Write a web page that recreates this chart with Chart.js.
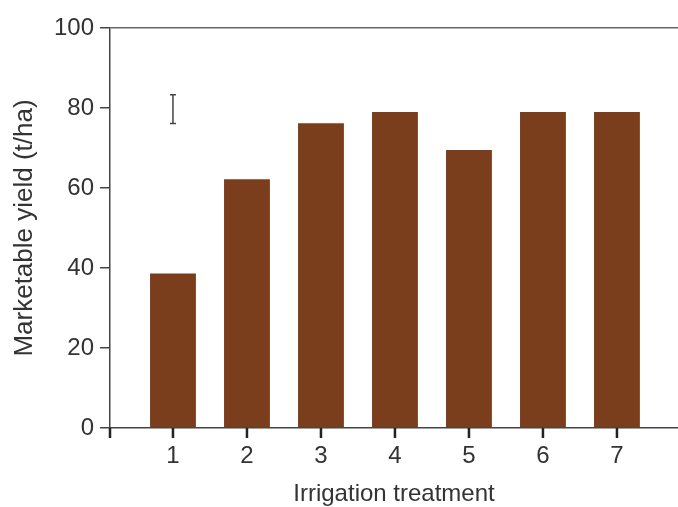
<!DOCTYPE html>
<html>
<head>
<meta charset="utf-8">
<script src="https://cdn.jsdelivr.net/npm/chart.js@4.4.0/dist/chart.umd.min.js"></script>
<style>
  html, body { margin: 0; padding: 0; background: #fff; }
  canvas { display: block; }
</style>
</head>
<body>
<canvas id="yieldChart" width="678" height="507"></canvas>
<script>
// Irrigation treatments and marketable yield (t/ha)
const treatments = [1, 2, 3, 4, 5, 6, 7];
const yieldValues = [38.6, 62.2, 76.2, 79, 69.5, 79, 79];

// LSD bar drawn near treatment 1
const lsdX = [1];
const lsdLow = [76.1];
const lsdHigh = [83.3];

const textColor = "#333333";
const lineColor = "#444444";
const barColor = "#7b3e1c";

// LSD bar, x tick marks and the little downward stub of the y axis
const extrasPlugin = {
  id: "extras",
  afterDraw(chart) {
    const { ctx, scales, chartArea } = chart;
    ctx.save();
    ctx.strokeStyle = lineColor;
    ctx.lineWidth = 1.5;
    lsdX.forEach((xv, i) => {
      const x = scales.x.getPixelForValue(xv);
      const y1 = scales.y.getPixelForValue(lsdLow[i]);
      const y2 = scales.y.getPixelForValue(lsdHigh[i]);
      ctx.beginPath();
      ctx.moveTo(x, y1);
      ctx.lineTo(x, y2);
      ctx.moveTo(x - 3, y1);
      ctx.lineTo(x + 3, y1);
      ctx.moveTo(x - 3, y2);
      ctx.lineTo(x + 3, y2);
      ctx.stroke();
    });
    ctx.strokeStyle = "#222222";
    ctx.lineWidth = 2.5;
    const marks = [chartArea.left].concat(treatments.map(t => scales.x.getPixelForValue(t)));
    marks.forEach(x => {
      ctx.beginPath();
      ctx.moveTo(x, chartArea.bottom);
      ctx.lineTo(x, chartArea.bottom + 10);
      ctx.stroke();
    });
    ctx.restore();
  }
};

const ctx = document.getElementById("yieldChart").getContext("2d");

new Chart(ctx, {
  type: "bar",
  data: {
    datasets: [
      {
        data: treatments.map((t, i) => ({ x: t, y: yieldValues[i] })),
        backgroundColor: barColor,
        borderWidth: 0,
        barPercentage: 0.62,
        categoryPercentage: 1
      }
    ]
  },
  options: {
    responsive: false,
    devicePixelRatio: 1,
    animation: false,
    layout: { padding: { top: 28, left: 0, right: 0, bottom: 0 } },
    plugins: {
      legend: { display: false },
      tooltip: { enabled: false }
    },
    scales: {
      x: {
        type: "linear",
        offset: false,
        min: 0.149,
        max: 7.825,
        afterFit: scale => { scale.height = 79; },
        ticks: {
          stepSize: 1,
          includeBounds: false,
          autoSkip: false,
          maxRotation: 0,
          padding: 4,
          color: textColor,
          font: { family: "Liberation Sans", size: 24 }
        },
        grid: {
          offset: false,
          drawOnChartArea: false,
          color: lineColor,
          lineWidth: 2,
          tickLength: 10,
          tickColor: lineColor,
          tickWidth: 2
        },
        border: { color: lineColor, width: 1.5 },
        title: {
          display: true,
          text: "Irrigation treatment",
          color: textColor,
          font: { family: "Liberation Sans", size: 24, lineHeight: 1 },
          padding: { top: 0, bottom: 1 }
        }
      },
      y: {
        min: 0,
        max: 100,
        afterFit: scale => { scale.width = 110; },
        ticks: {
          stepSize: 20,
          padding: 6,
          color: textColor,
          font: { family: "Liberation Sans", size: 24 }
        },
        grid: {
          drawOnChartArea: true,
          color: c => (c.tick && c.tick.value === 100 ? "#666666" : "rgba(0,0,0,0)"),
          lineWidth: 1.5,
          tickLength: 10,
          tickColor: lineColor,
          tickWidth: 1.5
        },
        border: { color: lineColor, width: 1.5 },
        title: {
          display: true,
          text: "Marketable yield (t/ha)",
          color: textColor,
          font: { family: "Liberation Sans", size: 26, lineHeight: 1.2 },
          padding: { top: 9, bottom: 0 }
        }
      }
    }
  },
  plugins: [extrasPlugin]
});
</script>
</body>
</html>
